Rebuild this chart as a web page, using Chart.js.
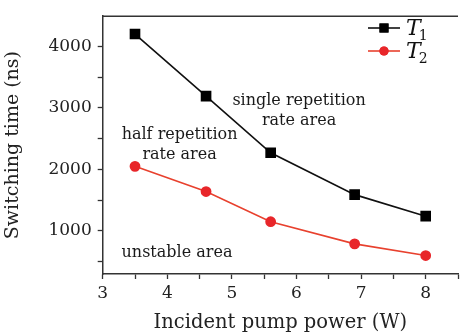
<!DOCTYPE html>
<html><head><meta charset="utf-8">
<script src="https://cdn.jsdelivr.net/npm/chart.js@4/dist/chart.umd.min.js"></script>
<style>html,body{margin:0;padding:0;overflow:hidden;background:#fff}#wrap{width:466px;height:336px}</style>
</head><body><div id="wrap"><canvas id="c" width="466" height="336"></canvas></div>
<script>
const pumpPower = [3.5, 4.6, 5.6, 6.9, 8.0];
const t1Values = [4200, 3190, 2270, 1590, 1240];
const t2Values = [2050, 1640, 1150, 790, 600];
const seriesNames = ['T', 'T'];
const seriesSubs = ['1', '2'];
const xTickLabels = [3, 4, 5, 6, 7, 8];
const yTickLabels = [1000, 2000, 3000, 4000];
const annotations = [
  {x: 6.04, y: 3110, lines: ['single repetition', 'rate area']},
  {x: 4.19, y: 2560, lines: ['half repetition', 'rate area']},
  {x: 4.15, y: 650, lines: ['unstable area']}
];

const SERIF = '"DejaVu Serif", "Liberation Serif", serif';
const axisColor = '#333';

const extras = {
  id: 'extras',
  afterDraw(chart) {
    const ctx = chart.ctx, a = chart.chartArea;
    const xs = chart.scales.x, ys = chart.scales.y;
    ctx.save();
    ctx.strokeStyle = axisColor; ctx.lineWidth = 1.5;
    ctx.beginPath(); ctx.moveTo(a.left, a.top); ctx.lineTo(a.right, a.top); ctx.stroke();
    ctx.fillStyle = '#1a1a1a';
    ctx.font = '16px ' + SERIF;
    ctx.textAlign = 'center'; ctx.textBaseline = 'middle';
    annotations.forEach(an => {
      const px = xs.getPixelForValue(an.x), py = ys.getPixelForValue(an.y);
      an.lines.forEach((l, i) => ctx.fillText(l, px, py + i * 20));
    });
    chart.data.datasets.forEach((ds, i) => {
      const y0 = 28 + i * 23, x0 = 368, x1 = 400;
      ctx.strokeStyle = ds.borderColor; ctx.lineWidth = ds.borderWidth;
      ctx.beginPath(); ctx.moveTo(x0, y0); ctx.lineTo(x1, y0); ctx.stroke();
      ctx.fillStyle = ds.pointBackgroundColor;
      Chart.helpers.drawPoint(ctx, {pointStyle: ds.pointStyle, radius: ds.pointRadius, borderWidth: 0, rotation: 0}, (x0 + x1) / 2, y0);
      ctx.fill();
      ctx.fillStyle = '#111'; ctx.textAlign = 'left'; ctx.textBaseline = 'alphabetic';
      ctx.font = 'italic 22px ' + SERIF;
      ctx.fillText(seriesNames[i], 406, y0 + 7);
      const w = ctx.measureText(seriesNames[i]).width;
      ctx.font = '14px ' + SERIF;
      ctx.fillText(seriesSubs[i], 406 + w - 2, y0 + 12);
    });
    ctx.restore();
  }
};

new Chart(document.getElementById('c'), {
  type: 'line',
  data: {
    datasets: [
      {label: 'T1', data: pumpPower.map((x, i) => ({x, y: t1Values[i]})), borderColor: '#111', backgroundColor: '#000',
       pointBackgroundColor: '#000', pointBorderColor: '#000', pointStyle: 'rect', pointRadius: 6.4, borderWidth: 1.6, tension: 0},
      {label: 'T2', data: pumpPower.map((x, i) => ({x, y: t2Values[i]})), borderColor: '#e8412e', backgroundColor: '#e8262a',
       pointBackgroundColor: '#e8262a', pointBorderColor: '#e8262a', pointStyle: 'circle', pointRadius: 4.6, borderWidth: 1.6, tension: 0}
    ]
  },
  options: {
    responsive: false, animation: false, devicePixelRatio: 1,
    layout: {padding: {top: 10, right: 0, left: 0, bottom: 0}},
    plugins: {legend: {display: false}, tooltip: {enabled: false}},
    scales: {
      x: {
        type: 'linear', min: 3, max: 8.5,
        afterBuildTicks(s) { s.ticks = []; for (let v = 3; v <= 8.5; v += 0.5) s.ticks.push({value: v}); },
        afterFit(s) { s.height = 62; },
        ticks: {color: '#222', font: {family: SERIF, size: 17}, padding: 4, maxRotation: 0,
          callback: v => xTickLabels.includes(v) ? String(v) : ''},
        grid: {drawOnChartArea: false, tickLength: 5, color: axisColor, tickColor: axisColor, tickWidth: 1.3},
        border: {display: true, color: axisColor, width: 1.5},
        title: {display: true, text: 'Incident pump power (W)', color: '#222', font: {family: SERIF, size: 19.5}, padding: {top: 0, bottom: 1}}
      },
      y: {
        type: 'linear', min: 300, max: 4490,
        afterBuildTicks(s) { s.ticks = []; for (let v = 500; v <= 4490; v += 500) s.ticks.push({value: v}); },
        afterFit(s) { s.width = 102.7; },
        ticks: {color: '#222', font: {family: SERIF, size: 17}, padding: 6,
          callback: v => yTickLabels.includes(v) ? String(v) : ''},
        grid: {drawOnChartArea: false, tickLength: 5, color: axisColor, tickColor: axisColor, tickWidth: 1.3},
        border: {display: true, color: axisColor, width: 1.5},
        title: {display: true, text: 'Switching time (ns)', color: '#222', font: {family: SERIF, size: 19}, padding: {top: 2, bottom: 4}}
      }
    }
  },
  plugins: [extras]
});
</script></body></html>
